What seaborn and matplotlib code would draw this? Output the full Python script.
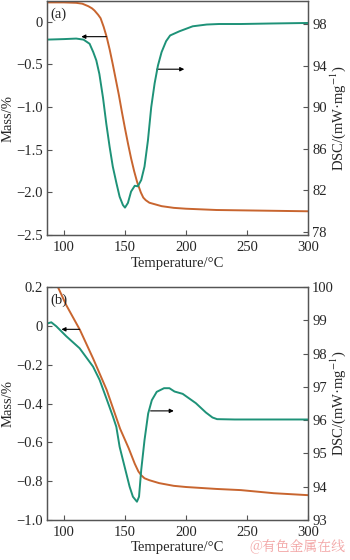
import matplotlib
matplotlib.use("Agg")
import matplotlib.pyplot as plt
import seaborn as sns
import pandas as pd

# ---------------- data ----------------
# Panel (a)
Ta_mass = [86, 100, 110, 115, 120, 123, 125, 128, 130, 132.5, 135, 137.5, 140, 142.5, 145,
           147.5, 150, 152.5, 155, 157.5, 160, 163, 165, 167, 170, 175, 180, 190, 200,
           225, 250, 275, 300]
Ma = [0.225, 0.225, 0.22, 0.21, 0.18, 0.155, 0.13, 0.08, 0.04, -0.06, -0.18, -0.33, -0.5,
      -0.68, -0.86, -1.06, -1.25, -1.43, -1.6, -1.75, -1.88, -2.0, -2.06, -2.09, -2.12,
      -2.14, -2.16, -2.18, -2.19, -2.205, -2.21, -2.215, -2.22]
Ta_dsc = [86, 100, 110, 116, 121, 124, 126.5, 129, 132, 134.7, 137.4, 140, 143, 145.6,
          148.3, 150, 152.4, 155, 158, 160.5, 163.3, 166, 168.8, 171.5, 174.3, 177, 180,
          183.7, 187, 194.6, 205.5, 217, 227, 245, 270, 300]
Da = [96.5, 96.55, 96.6, 96.5, 96.1, 95.3, 94.5, 93.2, 90.9, 88.4, 86.2, 84.3, 82.7,
      81.4, 80.6, 80.35, 80.8, 81.9, 82.45, 82.4, 83.0, 84.3, 86.8, 90.0, 92.3, 94.0,
      95.3, 96.35, 96.9, 97.3, 97.78, 97.95, 98.0, 98.0, 98.05, 98.1]

# Panel (b)
Tb_mass = [86, 95, 102, 113, 124, 135, 146, 153, 158, 161, 163.4, 166, 170, 178, 190,
           200, 225, 245, 272, 300]
Mb = [0.32, 0.2, 0.105, -0.02, -0.17, -0.33, -0.53, -0.63, -0.71, -0.75, -0.77, -0.785,
      -0.795, -0.81, -0.824, -0.83, -0.84, -0.846, -0.862, -0.872]
Tb_dsc = [86, 89.6, 93.7, 101.9, 112.8, 123.8, 129.2, 134.7, 140.1, 142.9, 145.6, 149.7,
          153.8, 156.5, 159.8, 161.5, 163.3, 166, 169, 172, 176, 182, 186.4, 190.6, 197.3,
          208.1, 216.3, 221.7, 225.5, 240, 260, 280, 300]
Db = [98.9, 98.94, 98.82, 98.52, 98.16, 97.61, 97.21, 96.66, 96.11, 95.8, 95.2, 94.6,
      94.0, 93.7, 93.55, 93.7, 94.5, 95.4, 96.2, 96.6, 96.85, 96.96, 96.96, 96.86, 96.79,
      96.51, 96.23, 96.08, 96.03, 96.02, 96.02, 96.02, 96.02]

x_ticks = [100, 150, 200, 250, 300]
a_mass_ticks = [0, -0.5, -1.0, -1.5, -2.0, -2.5]
a_mass_labels = ["0", "\u22120.5", "\u22121.0", "\u22121.5", "\u22122.0", "\u22122.5"]
a_dsc_ticks = [78, 82, 86, 90, 94, 98]
b_mass_ticks = [0.2, 0, -0.2, -0.4, -0.6, -0.8, -1.0]
b_mass_labels = ["0.2", "0", "\u22120.2", "\u22120.4", "\u22120.6", "\u22120.8", "\u22121.0"]
b_dsc_ticks = [93, 94, 95, 96, 97, 98, 99, 100]

# arrow annotations (mass-axis coordinates): (y, x_start, x_end)
a_arrows = [(-0.176, 134.7, 114.2), (-0.557, 176, 198.6)]
b_arrows = [(-0.018, 112.8, 97.9), (-0.438, 171, 190)]

ORANGE = "#C8652F"
GREEN = "#1E9278"
SPINE = "#555555"

# ---------------- style ----------------
sns.set_theme(style="ticks")
plt.rcParams["font.family"] = ["Liberation Serif", "DejaVu Serif"]
plt.rcParams["mathtext.fontset"] = "stix"
plt.rcParams["axes.edgecolor"] = SPINE
plt.rcParams["axes.linewidth"] = 0.9

fig = plt.figure(figsize=(3.5, 5.6), dpi=100)
ax_a = fig.add_axes([0.134, 0.580, 0.746, 0.418])
ax_b = fig.add_axes([0.134, 0.0714, 0.746, 0.4161])

FS = 10.5


def style_axes(ax, ax2):
    for a in (ax, ax2):
        a.tick_params(direction="in", length=3.5, width=0.8, color=SPINE,
                      labelsize=FS, pad=3)
        for s in a.spines.values():
            s.set_color(SPINE)
            s.set_linewidth(0.9)
    ax.tick_params(axis="x", pad=4)


def panel(ax, Tm, M, Td, D, xlims, mlims, mticks, mlabels, dlims, dticks, letter, arrows):
    dfm = pd.DataFrame({"T": Tm, "M": M})
    dfd = pd.DataFrame({"T": Td, "D": D})
    sns.lineplot(data=dfm, x="T", y="M", ax=ax, color=ORANGE, lw=1.4)
    ax2 = ax.twinx()
    sns.lineplot(data=dfd, x="T", y="D", ax=ax2, color=GREEN, lw=1.4)
    ax.set_xlim(*xlims)
    ax.set_ylim(*mlims)
    ax2.set_ylim(*dlims)
    ax.set_xticks(x_ticks)
    ax.set_yticks(mticks)
    ax.set_yticklabels(mlabels)
    ax2.set_yticks(dticks)
    ax.set_xlabel("Temperature/\u00b0C", fontsize=FS, labelpad=2)
    ax.set_ylabel("Mass/%", fontsize=FS)
    ax.yaxis.set_label_coords(-0.125, 0.5)
    ax2.set_ylabel("DSC/(mW\u00b7mg$^{-1}$)", fontsize=FS, va="center")
    ax2.yaxis.set_label_coords(1.115, 0.5)
    style_axes(ax, ax2)
    ax.text(0.015, 0.945, letter, transform=ax.transAxes, fontsize=FS,
            ha="left", va="center")
    for (y, x0, x1) in arrows:
        ax.annotate("", xy=(x1, y), xytext=(x0, y),
                    arrowprops=dict(arrowstyle="-|>", lw=0.8, color="black",
                                    mutation_scale=6, shrinkA=0, shrinkB=0))
    return ax2


panel(ax_a, Ta_mass, Ma, Ta_dsc, Da, (86, 300), (-2.5, 0.24), a_mass_ticks,
      a_mass_labels, (77.7, 100.2), a_dsc_ticks, "(a)", a_arrows)
panel(ax_b, Tb_mass, Mb, Tb_dsc, Db, (86, 300), (-1.0, 0.2), b_mass_ticks,
      b_mass_labels, (93, 100), b_dsc_ticks, "(b)", b_arrows)

fig.text(0.988, 0.008, "@有色金属在线", fontsize=10, color="#F2A3A3",
         ha="right", va="bottom", family=["Noto Serif CJK SC", "Noto Sans CJK SC", "DejaVu Sans"])

fig.savefig("out.png", dpi=100)
